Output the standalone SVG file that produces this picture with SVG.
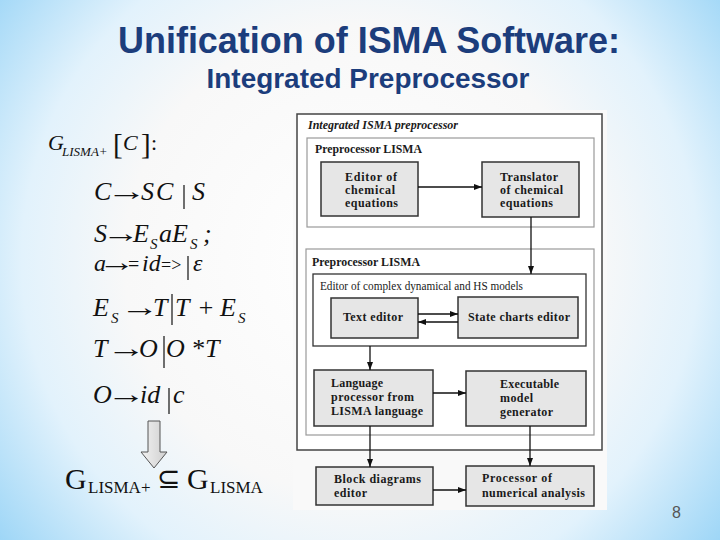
<svg xmlns="http://www.w3.org/2000/svg" width="720" height="540" viewBox="0 0 720 540">
<defs>
<radialGradient id="bg" gradientUnits="userSpaceOnUse" cx="360" cy="260" r="470">
<stop offset="0" stop-color="#ffffff"/>
<stop offset="0.5" stop-color="#f8f8f8"/>
<stop offset="0.72" stop-color="#e2f2fc"/>
<stop offset="1" stop-color="#96d3f6"/>
</radialGradient>
<linearGradient id="hollow" x1="0" y1="0" x2="1" y2="0">
<stop offset="0" stop-color="#f2f2f2"/>
<stop offset="1" stop-color="#cfcfcf"/>
</linearGradient>
<marker id="ah" viewBox="0 0 8 6" refX="8" refY="3" markerWidth="8" markerHeight="6" markerUnits="userSpaceOnUse" orient="auto">
<path d="M0,0 L8,3 L0,6 z" fill="#111"/>
</marker>
<style>
.title{font-family:"Liberation Sans",Arial,sans-serif;font-weight:bold;fill:#1c3d7c;text-anchor:middle}
.m{font-family:"Liberation Serif","Times New Roman",serif;font-style:italic;fill:#111}
.u{font-family:"Liberation Serif","Times New Roman",serif;fill:#111}
.arr{font-family:"Liberation Serif","Times New Roman",serif;font-size:26px;fill:#111;text-anchor:middle}
.eq{font-family:"Liberation Serif","Times New Roman",serif;font-style:normal}
.bar{stroke:#111;stroke-width:1.2}
.box{fill:#e6e6e6;stroke:#333;stroke-width:1.5}
.cont{fill:#ffffff;stroke:#9a9a9a;stroke-width:1.2}
.lbl{font-family:"Liberation Serif","Times New Roman",serif;font-weight:bold;font-size:12px;fill:#1a1a1a}
.reg{font-family:"Liberation Serif","Times New Roman",serif;font-size:11.5px;fill:#1a1a1a}
.con{stroke:#111;stroke-width:1.3;fill:none;marker-end:url(#ah)}
</style>
</defs>
<rect x="0" y="0" width="720" height="540" fill="url(#bg)"/>

<text class="title" x="369" y="53" font-size="36" textLength="502" lengthAdjust="spacingAndGlyphs">Unification of ISMA Software:</text>
<text class="title" x="368" y="88" font-size="27.5" textLength="323" lengthAdjust="spacingAndGlyphs">Integrated Preprocessor</text>

<g id="grammar">
<text class="m" x="48" y="150" font-size="22">G</text>
<text class="m" x="62" y="156" font-size="13">LISMA+</text>
<text class="u" x="113" y="154" font-size="29">[</text>
<text class="m" x="123" y="150" font-size="22">C</text>
<text class="u" x="141" y="154" font-size="29">]</text>
<text class="u" x="151" y="150" font-size="22">:</text>

<text class="m" font-size="26" y="200"><tspan x="94">C</tspan><tspan x="141">S</tspan><tspan x="156">C</tspan><tspan x="192">S</tspan></text>
<text class="arr" transform="translate(127,200) scale(1.55,1)">→</text>
<line class="bar" x1="184" y1="185" x2="184" y2="209"/>

<text class="m" font-size="26" y="242"><tspan x="94">S</tspan><tspan x="133">E</tspan><tspan x="159">a</tspan><tspan x="172">E</tspan><tspan x="203">;</tspan></text>
<text class="arr" transform="translate(121,242) scale(1.45,1)">→</text>
<text class="m" font-size="15" y="249"><tspan x="150">S</tspan><tspan x="190">S</tspan></text>

<text class="m" font-size="24" y="271"><tspan x="94">a</tspan><tspan x="128" class="eq" font-size="20">=</tspan><tspan x="142">id</tspan><tspan x="161" class="eq" font-size="18">=&gt;</tspan><tspan x="193">ε</tspan></text>
<text class="arr" transform="translate(117,271) scale(1.42,1)" font-size="24">→</text>
<line class="bar" x1="188" y1="256" x2="188" y2="280"/>

<text class="m" font-size="26" y="316"><tspan x="93">E</tspan><tspan x="153">T</tspan><tspan x="175">T</tspan><tspan x="197">+</tspan><tspan x="220">E</tspan></text>
<text class="arr" transform="translate(140,316) scale(1.5,1)">→</text>
<text class="m" font-size="15" y="323"><tspan x="111">S</tspan><tspan x="238">S</tspan></text>
<line class="bar" x1="172" y1="294" x2="172" y2="325"/>

<text class="m" font-size="26" y="357"><tspan x="93">T</tspan><tspan x="139">O</tspan><tspan x="166">O</tspan><tspan x="191">*</tspan><tspan x="205">T</tspan></text>
<text class="arr" transform="translate(126.5,357) scale(1.5,1)">→</text>
<line class="bar" x1="164" y1="336" x2="164" y2="368"/>

<text class="m" font-size="26" y="403"><tspan x="93">O</tspan><tspan x="140">id</tspan><tspan x="173">c</tspan></text>
<text class="arr" transform="translate(126.5,403) scale(1.5,1)">→</text>
<line class="bar" x1="169" y1="388" x2="169" y2="414"/>

<path d="M148,421 L160,421 L160,452 L167,452 L154,468 L141,452 L148,452 Z" fill="url(#hollow)" stroke="#555" stroke-width="1"/>

<text class="u" x="65" y="489" font-size="30">G</text>
<text class="u" x="88" y="493" font-size="17">LISMA+</text>
<text class="u" x="157" y="488" font-size="28">⊆</text>
<text class="u" x="187" y="489" font-size="30">G</text>
<text class="u" x="210" y="493" font-size="17">LISMA</text>
</g>

<rect x="293" y="110" width="314" height="400" fill="#f9f9f9"/>

<g id="integrated">
<rect x="297" y="114" width="305" height="336" fill="#ffffff" stroke="#444" stroke-width="1.5"/>
<text x="308" y="129" font-family="Liberation Serif, Times New Roman, serif" font-style="italic" font-weight="bold" font-size="12" textLength="150" lengthAdjust="spacingAndGlyphs" fill="#1a1a1a">Integrated ISMA preprocessor</text>
</g>
<g id="prepLismaPlus">
<rect class="cont" x="307" y="138" width="287" height="89"/>
<text class="lbl" x="315" y="153" textLength="107" lengthAdjust="spacingAndGlyphs">Preprocessor LISMA</text>
</g>
<g id="editorChem">
<rect class="box" x="321" y="162" width="97" height="54"/>
<text class="lbl" x="345" y="181" textLength="52" lengthAdjust="spacing">Editor of</text>
<text class="lbl" x="345" y="194" textLength="50" lengthAdjust="spacing">chemical</text>
<text class="lbl" x="345" y="207" textLength="53" lengthAdjust="spacing">equations</text>
</g>
<g id="translator">
<rect class="box" x="482" y="162" width="97" height="55"/>
<text class="lbl" x="500" y="181" textLength="58" lengthAdjust="spacing">Translator</text>
<text class="lbl" x="500" y="194" textLength="63" lengthAdjust="spacing">of chemical</text>
<text class="lbl" x="500" y="207" textLength="53" lengthAdjust="spacing">equations</text>
</g>
<g id="prepLisma">
<rect class="cont" x="306" y="249" width="288" height="186"/>
<text class="lbl" x="312" y="266" textLength="108" lengthAdjust="spacingAndGlyphs">Preprocessor LISMA</text>
</g>
<g id="editorComplex">
<rect x="313" y="274" width="273" height="72" fill="#ffffff" stroke="#333" stroke-width="1.3"/>
<text class="reg" x="320" y="290" textLength="203" lengthAdjust="spacingAndGlyphs">Editor of complex dynamical and HS models</text>
</g>
<g id="textEditor">
<rect class="box" x="331" y="298" width="87" height="40"/>
<text class="lbl" x="343" y="321" textLength="60" lengthAdjust="spacing">Text editor</text>
</g>
<g id="stateCharts">
<rect class="box" x="458" y="297" width="120" height="41"/>
<text class="lbl" x="468" y="321" textLength="102" lengthAdjust="spacing">State charts editor</text>
</g>
<g id="language">
<rect class="box" x="314" y="370" width="119" height="56"/>
<text class="lbl" x="331" y="387" textLength="52" lengthAdjust="spacing">Language</text>
<text class="lbl" x="331" y="401" textLength="83" lengthAdjust="spacing">processor from</text>
<text class="lbl" x="331" y="415" textLength="92" lengthAdjust="spacing">LISMA language</text>
</g>
<g id="executable">
<rect class="box" x="466" y="371" width="120" height="55"/>
<text class="lbl" x="500" y="388" textLength="59" lengthAdjust="spacing">Executable</text>
<text class="lbl" x="500" y="402" textLength="33" lengthAdjust="spacing">model</text>
<text class="lbl" x="500" y="416" textLength="53" lengthAdjust="spacing">generator</text>
</g>
<g id="blockDiagrams">
<rect class="box" x="316" y="467" width="117" height="38"/>
<text class="lbl" x="334" y="483" textLength="87" lengthAdjust="spacing">Block diagrams</text>
<text class="lbl" x="334" y="497" textLength="33" lengthAdjust="spacing">editor</text>
</g>
<g id="processor">
<rect class="box" x="466" y="466" width="128" height="40"/>
<text class="lbl" x="482" y="482" textLength="70" lengthAdjust="spacing">Processor of</text>
<text class="lbl" x="482" y="497" textLength="103" lengthAdjust="spacing">numerical analysis</text>
</g>

<g id="connectors">
<line class="con" x1="418" y1="187" x2="482" y2="187"/>
<line class="con" x1="531" y1="217" x2="531" y2="274"/>
<line class="con" x1="418" y1="314" x2="458" y2="314"/>
<line class="con" x1="458" y1="322" x2="418" y2="322"/>
<line class="con" x1="370" y1="346" x2="370" y2="370"/>
<line class="con" x1="433" y1="393" x2="466" y2="393"/>
<line class="con" x1="370" y1="426" x2="370" y2="467"/>
<line class="con" x1="530" y1="426" x2="530" y2="466"/>
<line class="con" x1="433" y1="490" x2="466" y2="490"/>
</g>

<text x="672" y="518" font-family="Liberation Sans, Arial, sans-serif" font-size="16" fill="#555">8</text>
</svg>
